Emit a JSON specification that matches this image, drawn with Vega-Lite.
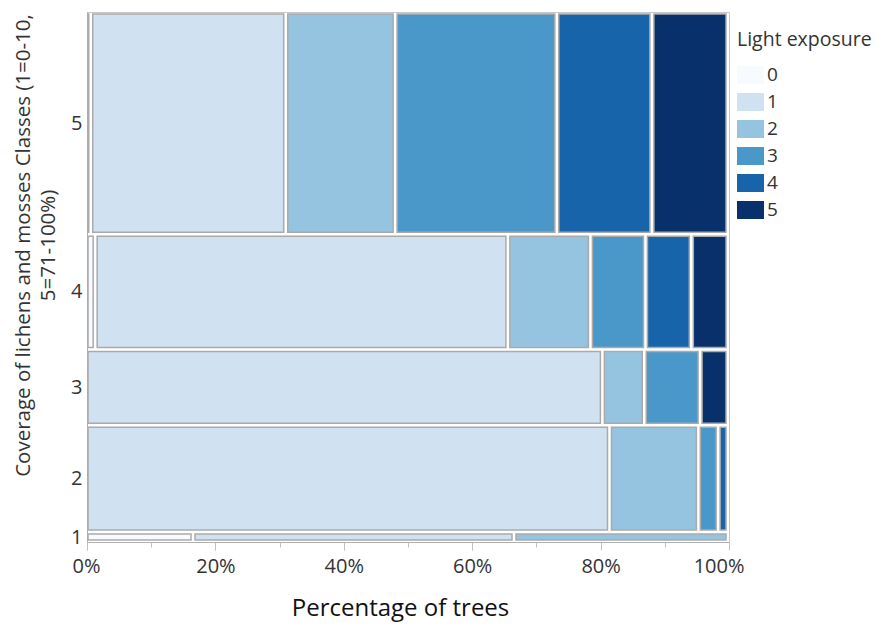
{
  "$schema": "https://vega.github.io/schema/vega-lite/v6.json",
  "width": 642,
  "height": 530,
  "autosize": "none",
  "padding": {"left": 87, "top": 12, "right": 148, "bottom": 86},
  "background": "white",
  "config": {"font": "Open Sans", "view": {"stroke": "#c8c8c8", "strokeWidth": 1}},
  "data": {"values": [
    {"cover": 5, "light": 0, "trees": 1},
    {"cover": 5, "light": 1, "trees": 41},
    {"cover": 5, "light": 2, "trees": 23},
    {"cover": 5, "light": 3, "trees": 34},
    {"cover": 5, "light": 4, "trees": 20},
    {"cover": 5, "light": 5, "trees": 16},
    {"cover": 4, "light": 0, "trees": 1},
    {"cover": 4, "light": 1, "trees": 45},
    {"cover": 4, "light": 2, "trees": 9},
    {"cover": 4, "light": 3, "trees": 6},
    {"cover": 4, "light": 4, "trees": 5},
    {"cover": 4, "light": 5, "trees": 4},
    {"cover": 3, "light": 1, "trees": 37},
    {"cover": 3, "light": 2, "trees": 3},
    {"cover": 3, "light": 3, "trees": 4},
    {"cover": 3, "light": 5, "trees": 2},
    {"cover": 2, "light": 1, "trees": 53},
    {"cover": 2, "light": 2, "trees": 9},
    {"cover": 2, "light": 3, "trees": 2},
    {"cover": 2, "light": 4, "trees": 1},
    {"cover": 1, "light": 0, "trees": 1},
    {"cover": 1, "light": 1, "trees": 3},
    {"cover": 1, "light": 2, "trees": 2}
  ]},
  "transform": [
    {"stack": "trees", "groupby": [], "sort": [{"field": "cover", "order": "descending"}, {"field": "light", "order": "ascending"}], "offset": "normalize", "as": ["s0", "s1"]},
    {"window": [{"op": "min", "field": "s0", "as": "y0"}, {"op": "max", "field": "s1", "as": "y1"}], "groupby": ["cover"], "frame": [null, null]},
    {"stack": "trees", "groupby": ["cover"], "sort": [{"field": "light", "order": "ascending"}], "offset": "normalize", "as": ["x0", "x1"]}
  ],
  "layer": [
    {
      "mark": {"type": "rect", "xOffset": 1, "x2Offset": -3, "yOffset": 2, "y2Offset": -2, "stroke": "#aaaaaa", "strokeWidth": 1.5},
      "encoding": {
        "x": {"field": "x0", "type": "quantitative", "scale": {"domain": [0, 1], "nice": false},
          "axis": {"orient": "bottom", "values": [0, 0.2, 0.4, 0.6, 0.8, 1], "format": ".0%", "title": "Percentage of trees",
            "titleFontSize": 24, "titleFontWeight": "normal", "titleColor": "#111", "titlePadding": 20, "titleX": 313,
            "labelFontSize": 20, "labelColor": "#333", "labelPadding": 6, "labelFlush": true, "labelFlushOffset": 15,
            "tickSize": 8, "tickColor": "#c0c0c0", "domainColor": "#b0b0b0", "grid": false}},
        "x2": {"field": "x1"},
        "y": {"field": "y0", "type": "quantitative", "scale": {"domain": [0, 1], "reverse": true, "nice": false},
          "axis": {"title": ["Coverage of lichens and mosses Classes (1=0-10,", "5=71-100%)"],
            "values": [0.20963, 0.52795, 0.70807, 0.88043, 0.99068],
            "labelExpr": "datum.value < 0.4 ? '5' : datum.value < 0.6 ? '4' : datum.value < 0.8 ? '3' : datum.value < 0.95 ? '2' : '1'",
            "ticks": false, "grid": false, "domainColor": "#b0b0b0",
            "labelFontSize": 20, "labelColor": "#333", "labelPadding": 5,
            "titleFontSize": 20.5, "titleFontWeight": "normal", "titleColor": "#333", "titlePadding": 12, "titleLineHeight": 25, "titleY": 233}},
        "y2": {"field": "y1"},
        "color": {"field": "light", "type": "ordinal", "title": "Light exposure",
          "scale": {"domain": [0, 1, 2, 3, 4, 5], "range": ["#f7fbff", "#d0e1f2", "#94c4df", "#4a98c9", "#1764ab", "#08306b"]},
          "legend": {"orient": "none", "legendX": 650, "legendY": 19, "symbolType": "M-1,-0.667H1V0.667H-1Z", "symbolSize": 729,
            "symbolStrokeWidth": 0, "symbolOpacity": 1, "labelFontSize": 19, "labelColor": "#333", "labelOffset": 3,
            "titleFontSize": 19.5, "titleFontWeight": "normal", "titleColor": "#333", "titlePadding": 11, "rowPadding": 3}}
      }
    },
    {
      "mark": {"type": "rect", "opacity": 0},
      "encoding": {
        "x": {"field": "x0", "type": "quantitative",
          "axis": {"orient": "bottom", "values": [0.1, 0.3, 0.5, 0.7, 0.9], "labels": false, "domain": false, "grid": false, "title": null, "tickSize": 5, "tickColor": "#c0c0c0"}},
        "x2": {"field": "x1"},
        "y": {"field": "y0", "type": "quantitative", "axis": null},
        "y2": {"field": "y1"}
      }
    }
  ],
  "resolve": {"axis": {"x": "independent", "y": "independent"}}
}
